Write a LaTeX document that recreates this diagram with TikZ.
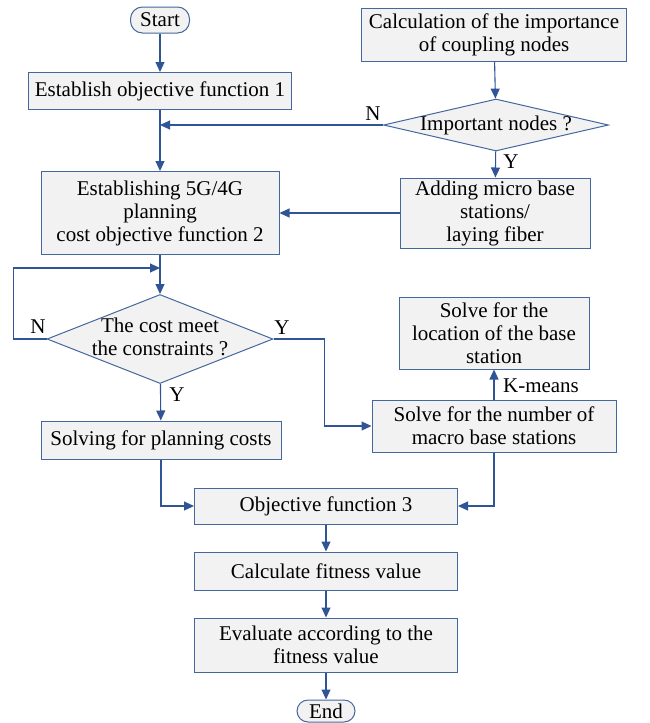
\documentclass[tikz,border=0pt]{standalone}
\usepackage{fontspec}
\setmainfont{Liberation Serif}
\usetikzlibrary{shapes.geometric,arrows.meta}
\definecolor{linecol}{RGB}{47,85,151}
\definecolor{edgecol}{RGB}{68,104,158}
\definecolor{boxfill}{RGB}{242,242,242}
\begin{document}
\begin{tikzpicture}[x=1pt,y=-1pt,
    font=\fontsize{21}{23}\selectfont,
    box/.style={draw=edgecol,fill=boxfill,line width=1pt,align=center,inner sep=0pt},
    term/.style={box,rounded corners=12pt,minimum width=59pt,minimum height=26pt},
    decide/.style={diamond,draw=edgecol,fill=boxfill,line width=1pt,inner sep=0pt},
    arrow/.style={draw=linecol,line width=1.1pt,-{Triangle[length=10pt,width=9pt]}},
    tag/.style={inner sep=0pt}]
    \useasboundingbox (0,0) rectangle (649,723);

    % Left column
    \node[term] (start) at (160,20) {Start};
    \node[box,minimum width=263pt,minimum height=37pt] (obj1) at (160,91) {Establish objective function 1};
    \node[box,minimum width=238pt,minimum height=83pt] (obj2) at (160,213) {Establishing 5G/4G\\planning\\cost objective function 2};
    \node[decide,minimum width=226pt,minimum height=89pt,label={center:\begin{tabular}{@{}c@{}}The cost meet\\the constraints ?\end{tabular}}] (cost) at (160,339) {};
    \node[box,minimum width=240pt,minimum height=38pt] (plan) at (161,440) {Solving for planning costs};

    % Right column
    \node[box,minimum width=265pt,minimum height=53pt] (calc) at (494,35) {Calculation of the importance\\of coupling nodes};
    \node[decide,minimum width=225pt,minimum height=52pt,label={center:Important nodes ?}] (imp) at (496,125) {};
    \node[box,minimum width=190pt,minimum height=70pt] (add) at (495,213) {Adding micro base\\stations/\\laying fiber};
    \node[box,minimum width=190pt,minimum height=72pt] (loc) at (494,333) {Solve for the\\location of the base\\station};
    \node[box,minimum width=244pt,minimum height=52pt] (num) at (494,426) {Solve for the number of\\macro base stations};

    % Bottom column
    \node[box,minimum width=263pt,minimum height=36pt] (obj3) at (326,506) {Objective function 3};
    \node[box,minimum width=263pt,minimum height=38pt] (fit) at (326,571) {Calculate fitness value};
    \node[box,minimum width=263pt,minimum height=54pt] (eval) at (326,645) {Evaluate according to the\\fitness value};
    \node[term,minimum width=58pt,minimum height=22pt,rounded corners=11pt] (stop) at (326,711) {End};

    % Branch labels
    \node[tag] (n1) at (373,114) {N};
    \node[tag] (y1) at (511,162) {Y};
    \node[tag] (n2) at (38,327) {N};
    \node[tag] (y2) at (282,328) {Y};
    \node[tag] (y3) at (177,395) {Y};
    \node[tag] (km) at (541,386) {K-means};
    \coordinate (join) at (160,268);

    % The connectors
    \draw[arrow] (start) -- (obj1);
    \draw[arrow] (obj1) -- (obj2);
    \draw[arrow] (calc) -- (imp);
    \draw[arrow] (imp.west) -- (imp.west -| obj1.south);
    \draw[arrow] (imp) -- (add);
    \draw[arrow] (add) -- (obj2);
    \draw[arrow] (obj2) -- (cost);
    \draw[arrow] (cost.west) -- ++(-33,0) |- (join);
    \draw[arrow] (cost) -- (plan);
    \draw[arrow] (cost.east) -- ++(51,0) |- (num.west);
    \draw[arrow] (num) -- (loc);
    \draw[arrow] (plan.south) |- (obj3.west);
    \draw[arrow] (num.south) |- (obj3.east);
    \draw[arrow] (obj3) -- (fit);
    \draw[arrow] (fit) -- (eval);
    \draw[arrow] (eval) -- (stop);
\end{tikzpicture}
\end{document}
